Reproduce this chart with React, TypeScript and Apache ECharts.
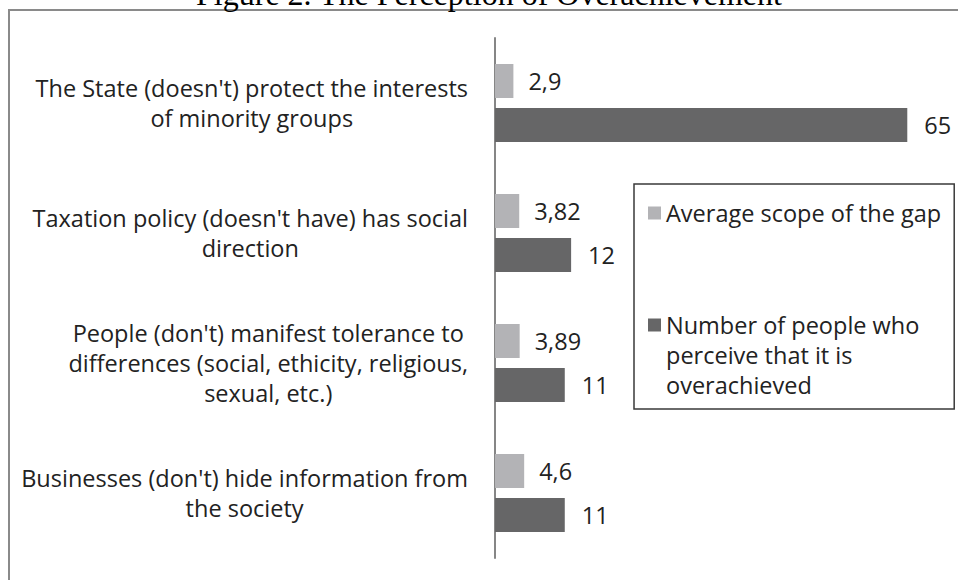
import React, { useEffect, useRef } from "react";
import * as echarts from "echarts";

const categories: string[] = [
  "The State (doesn't) protect the interests\nof minority groups",
  "Taxation policy (doesn't have) has social\ndirection",
  "People (don't) manifest tolerance to\ndifferences (social, ethicity, religious,\nsexual, etc.)",
  "Businesses (don't) hide information from\nthe society",
];
const seriesNames: string[] = [
  "Average scope of the gap",
  "Number of people who\nperceive that it is\noverachieved",
];
const averageScope: number[] = [2.9, 3.82, 3.89, 4.6];
const numberOfPeople: number[] = [65, 12, 11, 11];
const titleText = "Figure 2. The Perception of Overachievement";

const FONT = "'Open Sans', 'Noto Sans', sans-serif";
const TEXT_COLOR = "#222222";
const FS = 23.5;

export default function App() {
  const ref = useRef<HTMLDivElement>(null);
  useEffect(() => {
    if (!ref.current) return;
    document.body.style.margin = "0";
    const chart = echarts.init(ref.current, null, { renderer: "svg" });
    const labelFmt = (p: any) => String(p.value).replace(".", ",");
    chart.setOption({
      animation: false,
      backgroundColor: "#ffffff",
      textStyle: { fontFamily: FONT },
      graphic: [
        {
          type: "rect",
          shape: { x: 9, y: 10, width: 1200, height: 900 },
          style: { fill: "none", stroke: "#8a8a8a", lineWidth: 2 },
          silent: true,
        },
        {
          type: "text",
          x: 489,
          y: -6,
          style: {
            text: titleText,
            font: "32px 'Liberation Serif', 'DejaVu Serif', serif",
            fill: "#000000",
            align: "center",
            verticalAlign: "middle",
          },
          silent: true,
        },
      ],
      grid: { left: 495, top: 38, height: 520, right: 19, containLabel: false },
      xAxis: {
        type: "value",
        min: 0,
        max: 70,
        show: false,
      },
      yAxis: {
        type: "category",
        inverse: true,
        data: categories,
        axisLine: { show: true, lineStyle: { color: "#868686", width: 2 } },
        axisTick: { show: false },
        splitLine: { show: false },
        axisLabel: {
          margin: 27,
          color: TEXT_COLOR,
          fontFamily: FONT,
          fontSize: FS,
          lineHeight: 30,
          formatter: (v: string) =>
            v
              .split("\n")
              .map((l) => `{c|${l}}`)
              .join("\n"),
          rich: {
            c: {
              align: "center",
              fontFamily: FONT,
              fontSize: FS,
              lineHeight: 30,
              color: TEXT_COLOR,
            },
          },
        },
      },
      legend: {
        orient: "vertical",
        left: 634,
        top: 184,
        padding: [14, 13, 9, 14],
        itemGap: 22,
        itemWidth: 13,
        itemHeight: 13,
        icon: "rect",
        borderColor: "#3a3a3a",
        borderWidth: 1.5,
        formatter: (name: string) =>
          name === seriesNames[1] ? "\n\n" + name : name,
        textStyle: {
          color: TEXT_COLOR,
          fontFamily: FONT,
          fontSize: FS,
          lineHeight: 30,
        },
        data: [seriesNames[0], seriesNames[1]],
      },
      series: [
        {
          name: seriesNames[0],
          type: "bar",
          data: averageScope,
          barWidth: 34,
          barGap: "29.4%",
          itemStyle: { color: "#b3b3b6" },
          label: {
            show: true,
            position: "right",
            distance: 15,
            color: TEXT_COLOR,
            fontFamily: FONT,
            fontSize: FS,
            formatter: labelFmt,
          },
        },
        {
          name: seriesNames[1],
          type: "bar",
          data: numberOfPeople,
          barWidth: 34,
          barGap: "29.4%",
          itemStyle: { color: "#666667" },
          label: {
            show: true,
            position: "right",
            distance: 17,
            color: TEXT_COLOR,
            fontFamily: FONT,
            fontSize: FS,
            formatter: labelFmt,
          },
        },
      ],
    });
    return () => chart.dispose();
  }, []);
  return (
    <div
      ref={ref}
      style={{ position: "fixed", left: 0, top: 0, width: 958, height: 580 }}
    />
  );
}
